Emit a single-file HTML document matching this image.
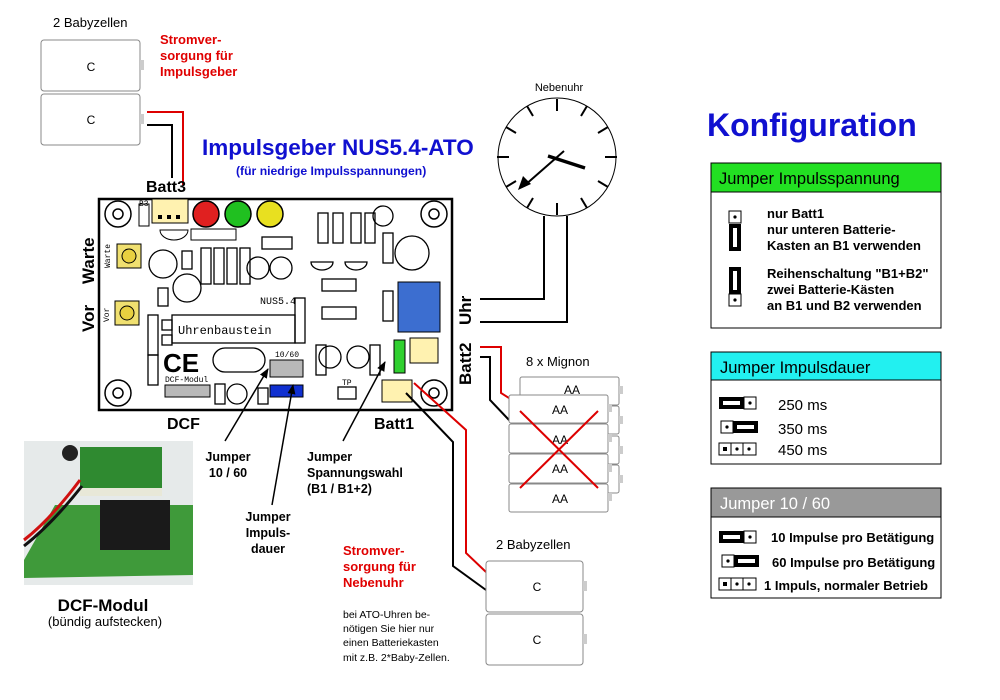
<!DOCTYPE html>
<html><head><meta charset="utf-8"><style>
html,body{margin:0;padding:0;background:#fff;}
svg{display:block;font-family:"Liberation Sans",Arial,sans-serif;}
</style></head><body>
<svg width="1000" height="700" viewBox="0 0 1000 700" xmlns="http://www.w3.org/2000/svg">
<rect width="1000" height="700" fill="#fff"/>
<defs>
<marker id="ah" markerWidth="10" markerHeight="10" refX="9" refY="5" orient="auto" markerUnits="userSpaceOnUse"><path d="M0,1 L10,5 L0,9 z" fill="#000"/></marker>
</defs>

<!-- top batteries -->
<text x="53" y="27" font-size="13">2 Babyzellen</text>
<rect x="41" y="40" width="99" height="51" rx="3" fill="#fff" stroke="#888"/>
<rect x="41" y="94" width="99" height="51" rx="3" fill="#fff" stroke="#888"/>
<rect x="140" y="60" width="4" height="10" fill="#ccc"/>
<rect x="140" y="114" width="4" height="10" fill="#ccc"/>
<text x="91" y="71" font-size="12" text-anchor="middle">C</text>
<text x="91" y="124" font-size="12" text-anchor="middle">C</text>
<polyline points="147,112 183,112 183,185" fill="none" stroke="#d00" stroke-width="2"/>
<polyline points="147,125 172,125 172,178" fill="none" stroke="#000" stroke-width="2"/>
<g font-size="13" font-weight="bold" fill="#e00000">
<text x="160" y="44">Stromver-</text><text x="160" y="60">sorgung für</text><text x="160" y="76">Impulsgeber</text></g>

<text x="202" y="155" font-size="22.5" font-weight="bold" fill="#1010d0">Impulsgeber NUS5.4-ATO</text>
<text x="236" y="175" font-size="12.2" font-weight="bold" fill="#1010d0">(für niedrige Impulsspannungen)</text>
<text x="146" y="192" font-size="16" font-weight="bold">Batt3</text>

<!-- PCB -->
<rect x="99" y="199" width="353" height="211" fill="#fff" stroke="#000" stroke-width="2.5"/>
<g fill="none" stroke="#000" stroke-width="1.5">
<circle cx="118" cy="214" r="13"/><circle cx="434" cy="214" r="13"/><circle cx="118" cy="393" r="13"/><circle cx="434" cy="393" r="13"/>
<circle cx="118" cy="214" r="5"/><circle cx="434" cy="214" r="5"/><circle cx="118" cy="393" r="5"/><circle cx="434" cy="393" r="5"/>
</g>
<rect x="152" y="199" width="36" height="24" fill="#fff2b0" stroke="#000"/>
<rect x="158" y="215" width="4" height="4"/><rect x="167" y="215" width="4" height="4"/><rect x="176" y="215" width="4" height="4"/>
<rect x="139" y="204" width="10" height="22" fill="#fff" stroke="#000"/>
<circle cx="206" cy="214" r="13" fill="#e02020" stroke="#000" stroke-width="1.5"/>
<circle cx="238" cy="214" r="13" fill="#20c020" stroke="#000" stroke-width="1.5"/>
<circle cx="270" cy="214" r="13" fill="#e8e020" stroke="#000" stroke-width="1.5"/>
<rect x="191" y="229" width="45" height="11" fill="#fff" stroke="#000"/>
<path d="M160,230 a14,10 0 0 0 28,0 z" fill="#fff" stroke="#000"/>
<rect x="117" y="244" width="24" height="24" fill="#f0e070" stroke="#000"/><circle cx="129" cy="256" r="7" fill="#e8d040" stroke="#000"/>
<rect x="115" y="301" width="24" height="24" fill="#f0e070" stroke="#000"/><circle cx="127" cy="313" r="7" fill="#e8d040" stroke="#000"/>
<g font-size="8" font-family="Liberation Mono,monospace">
<text transform="translate(110,268) rotate(-90)">Warte</text>
<text transform="translate(109,322) rotate(-90)">Vor</text>
<text x="139" y="206">B3</text>
</g>
<g fill="none" stroke="#000" stroke-width="1.3">
<circle cx="163" cy="264" r="14"/><circle cx="187" cy="288" r="14"/>
<rect x="182" y="251" width="10" height="18"/><rect x="158" y="288" width="10" height="18"/>
<rect x="201" y="248" width="10" height="36"/><rect x="214" y="248" width="10" height="36"/><rect x="227" y="248" width="10" height="36"/><rect x="240" y="248" width="10" height="36"/>
<circle cx="258" cy="268" r="11"/><circle cx="281" cy="268" r="11"/>
<rect x="262" y="237" width="30" height="12"/>
<rect x="318" y="213" width="10" height="30"/><rect x="351" y="213" width="10" height="30"/>
<rect x="333" y="213" width="10" height="30"/><rect x="365" y="213" width="10" height="30"/>
<circle cx="383" cy="216" r="10"/><circle cx="412" cy="253" r="17"/>
<path d="M311,262 a11,8 0 0 0 22,0 z"/><path d="M345,262 a11,8 0 0 0 22,0 z"/>
<rect x="322" y="279" width="34" height="12"/><rect x="322" y="307" width="34" height="12"/>
<rect x="383" y="233" width="10" height="30"/><rect x="383" y="291" width="10" height="30"/>
<rect x="295" y="298" width="10" height="45"/>
<rect x="172" y="315" width="123" height="28"/>
<rect x="148" y="315" width="10" height="40"/><rect x="148" y="355" width="10" height="30"/>
<rect x="213" y="348" width="52" height="24" rx="12"/>
<circle cx="330" cy="357" r="11"/><circle cx="358" cy="357" r="11"/>
<rect x="316" y="345" width="10" height="30"/><rect x="370" y="345" width="10" height="30"/>
<circle cx="237" cy="394" r="10"/><rect x="215" y="384" width="10" height="20"/><rect x="258" y="388" width="10" height="16"/>
<rect x="338" y="387" width="18" height="12"/>
<rect x="162" y="320" width="10" height="10"/><rect x="162" y="335" width="10" height="10"/>
</g>
<text x="178" y="334" font-size="12" font-family="Liberation Mono,monospace">Uhrenbaustein</text>
<text x="260" y="304" font-size="10" font-family="Liberation Mono,monospace">NUS5.4</text>
<text x="163" y="372" font-size="26" font-weight="bold">CE</text>
<rect x="398" y="282" width="42" height="50" fill="#3c6ed0" stroke="#000"/>
<rect x="394" y="340" width="11" height="33" fill="#30d030" stroke="#000"/>
<rect x="410" y="338" width="28" height="25" fill="#fff2b0" stroke="#000"/>
<rect x="382" y="380" width="30" height="22" fill="#fff2b0" stroke="#000"/>
<rect x="270" y="360" width="33" height="17" fill="#b8b8b8" stroke="#000"/>
<rect x="270" y="385" width="33" height="12" fill="#1030d0" stroke="#000"/>
<rect x="165" y="385" width="45" height="12" fill="#b8b8b8" stroke="#000"/>
<text x="165" y="382" font-size="8" font-family="Liberation Mono,monospace">DCF-Modul</text>
<text x="275" y="357" font-size="8" font-family="Liberation Mono,monospace">10/60</text>
<text x="342" y="385" font-size="8" font-family="Liberation Mono,monospace">TP</text>

<g font-size="17" font-weight="bold">
<text transform="translate(94,284) rotate(-90)">Warte</text>
<text transform="translate(94,332) rotate(-90)">Vor</text>
<text transform="translate(471,325) rotate(-90)">Uhr</text>
<text transform="translate(471,385) rotate(-90)">Batt2</text>
<text x="167" y="429" font-size="16">DCF</text>
<text x="374" y="429" font-size="16">Batt1</text>
</g>

<line x1="225" y1="441" x2="268" y2="369" stroke="#000" stroke-width="1.5" marker-end="url(#ah)"/>
<line x1="272" y1="505" x2="293" y2="385" stroke="#000" stroke-width="1.5" marker-end="url(#ah)"/>
<line x1="343" y1="441" x2="385" y2="362" stroke="#000" stroke-width="1.5" marker-end="url(#ah)"/>
<g font-size="12.5" font-weight="bold">
<text x="228" y="461" text-anchor="middle">Jumper</text><text x="228" y="477" text-anchor="middle">10 / 60</text>
<text x="268" y="521" text-anchor="middle">Jumper</text><text x="268" y="537" text-anchor="middle">Impuls-</text><text x="268" y="553" text-anchor="middle">dauer</text>
<text x="307" y="461">Jumper</text><text x="307" y="477">Spannungswahl</text><text x="307" y="493">(B1 / B1+2)</text>
</g>

<!-- photo -->
<rect x="24" y="441" width="169" height="144" fill="#e6eaea"/>
<path d="M24,560 L55,505 L193,505 L193,575 L24,578 z" fill="#3f9a3a"/>
<rect x="100" y="500" width="70" height="50" fill="#1a1a1a"/>
<rect x="80" y="447" width="82" height="45" fill="#2f8a30"/>
<rect x="80" y="488" width="82" height="8" fill="#e8e8d8"/>
<circle cx="70" cy="453" r="8" fill="#222"/>
<path d="M24,540 Q50,520 80,480" stroke="#d01010" stroke-width="3" fill="none"/>
<path d="M24,546 Q52,524 82,486" stroke="#111" stroke-width="3" fill="none"/>
<text x="103" y="611" font-size="17" font-weight="bold" text-anchor="middle">DCF-Modul</text>
<text x="105" y="626" font-size="13" text-anchor="middle">(bündig aufstecken)</text>

<g font-size="13" font-weight="bold" fill="#e00000">
<text x="343" y="555">Stromver-</text><text x="343" y="571">sorgung für</text><text x="343" y="587">Nebenuhr</text></g>
<g font-size="10.5">
<text x="343" y="618">bei ATO-Uhren be-</text><text x="343" y="632">nötigen Sie hier nur</text><text x="343" y="646">einen Batteriekasten</text><text x="343" y="661">mit z.B. 2*Baby-Zellen.</text></g>

<!-- clock -->
<text x="559" y="91" font-size="11" text-anchor="middle">Nebenuhr</text>
<circle cx="557" cy="157" r="59" fill="#fff" stroke="#000"/>
<g stroke="#000" stroke-width="2">
<line x1="557" y1="99" x2="557" y2="111"/><line x1="557" y1="203" x2="557" y2="215"/>
<line x1="497" y1="157" x2="509" y2="157"/><line x1="605" y1="157" x2="617" y2="157"/>
<line x1="527" y1="106" x2="533" y2="116"/><line x1="587" y1="106" x2="581" y2="116"/>
<line x1="527" y1="208" x2="533" y2="198"/><line x1="587" y1="208" x2="581" y2="198"/>
<line x1="506" y1="127" x2="516" y2="133"/><line x1="608" y1="127" x2="598" y2="133"/>
<line x1="506" y1="187" x2="516" y2="181"/><line x1="608" y1="187" x2="598" y2="181"/>
</g>
<line x1="548" y1="156" x2="585" y2="168" stroke="#000" stroke-width="3.5"/>
<line x1="564" y1="151" x2="524" y2="186" stroke="#000" stroke-width="2"/>
<path d="M518,190 L523,176 L531,184 z" fill="#000"/>
<polyline points="544,216 544,299 480,299" fill="none" stroke="#000" stroke-width="2"/>
<polyline points="567,216 567,322 480,322" fill="none" stroke="#000" stroke-width="2"/>

<polyline points="480,347 501,347 501,393 509,398" fill="none" stroke="#d00" stroke-width="2"/>
<polyline points="480,357 490,357 490,400 509,420" fill="none" stroke="#000" stroke-width="2"/>

<text x="526" y="366" font-size="13">8 x Mignon</text>
<g fill="#fff" stroke="#888">
<rect x="520" y="377" width="99" height="28" rx="2"/><rect x="520" y="406" width="99" height="28" rx="2"/><rect x="520" y="436" width="99" height="28" rx="2"/><rect x="520" y="465" width="99" height="28" rx="2"/>
</g>
<g fill="#ccc"><rect x="619" y="386" width="4" height="8"/><rect x="619" y="416" width="4" height="8"/><rect x="619" y="446" width="4" height="8"/><rect x="619" y="475" width="4" height="8"/></g>
<text x="572" y="394" font-size="12" text-anchor="middle">AA</text>
<g fill="#fff" stroke="#888">
<rect x="509" y="395" width="99" height="28" rx="2"/><rect x="509" y="424" width="99" height="29" rx="2"/><rect x="509" y="454" width="99" height="29" rx="2"/><rect x="509" y="484" width="99" height="28" rx="2"/>
</g>
<g fill="#ccc"><rect x="608" y="404" width="4" height="8"/><rect x="608" y="434" width="4" height="8"/><rect x="608" y="464" width="4" height="8"/><rect x="608" y="493" width="4" height="8"/></g>
<g font-size="12" text-anchor="middle">
<text x="560" y="414">AA</text><text x="560" y="444">AA</text><text x="560" y="473">AA</text><text x="560" y="503">AA</text></g>
<line x1="520" y1="411" x2="598" y2="488" stroke="#d00" stroke-width="2"/>
<line x1="598" y1="411" x2="520" y2="488" stroke="#d00" stroke-width="2"/>

<polyline points="414,383 466,430 466,553 486,572" fill="none" stroke="#d00" stroke-width="2"/>
<polyline points="406,393 453,442 453,566 486,590" fill="none" stroke="#000" stroke-width="2"/>

<text x="496" y="549" font-size="13">2 Babyzellen</text>
<rect x="486" y="561" width="97" height="51" rx="3" fill="#fff" stroke="#888"/>
<rect x="486" y="614" width="97" height="51" rx="3" fill="#fff" stroke="#888"/>
<rect x="583" y="581" width="4" height="10" fill="#ccc"/>
<rect x="583" y="634" width="4" height="10" fill="#ccc"/>
<text x="537" y="591" font-size="12" text-anchor="middle">C</text>
<text x="537" y="644" font-size="12" text-anchor="middle">C</text>

<text x="707" y="136" font-size="32" font-weight="bold" fill="#1010d0">Konfiguration</text>

<!-- Box 1 -->
<rect x="711" y="163" width="230" height="165" fill="#fff" stroke="#000"/>
<rect x="711" y="163" width="230" height="29" fill="#22e022" stroke="#000"/>
<text x="719" y="184" font-size="16.5">Jumper Impulsspannung</text>
<rect x="729" y="211" width="12" height="12" fill="#fff" stroke="#000"/><circle cx="735" cy="217" r="1.6"/>
<rect x="729" y="224" width="12" height="27" fill="#000"/><rect x="733" y="228" width="4" height="19" fill="#fff"/>
<rect x="729" y="267" width="12" height="27" fill="#000"/><rect x="733" y="271" width="4" height="19" fill="#fff"/>
<rect x="729" y="294" width="12" height="12" fill="#fff" stroke="#000"/><circle cx="735" cy="300" r="1.6"/>
<g font-size="13" font-weight="bold">
<text x="767" y="218">nur Batt1</text><text x="767" y="234">nur unteren Batterie-</text><text x="767" y="250">Kasten an B1 verwenden</text>
<text x="767" y="278">Reihenschaltung "B1+B2"</text><text x="767" y="294">zwei Batterie-Kästen</text><text x="767" y="310">an B1 und B2 verwenden</text>
</g>

<!-- Box 2 -->
<rect x="711" y="352" width="230" height="112" fill="#fff" stroke="#000"/>
<rect x="711" y="352" width="230" height="28" fill="#22f0f0" stroke="#000"/>
<text x="720" y="373" font-size="16.5">Jumper Impulsdauer</text>
<rect x="719" y="397" width="25" height="12" fill="#000"/><rect x="723" y="401" width="17" height="4" fill="#fff"/>
<rect x="744" y="397" width="12" height="12" fill="#fff" stroke="#000"/><circle cx="750" cy="403" r="1.6"/>
<rect x="721" y="421" width="12" height="12" fill="#fff" stroke="#000"/><circle cx="727" cy="427" r="1.6"/>
<rect x="733" y="421" width="25" height="12" fill="#000"/><rect x="737" y="425" width="17" height="4" fill="#fff"/>
<rect x="719" y="443" width="37" height="12" fill="#fff" stroke="#000"/><line x1="731" y1="443" x2="731" y2="455" stroke="#000"/><line x1="743" y1="443" x2="743" y2="455" stroke="#000"/>
<rect x="723" y="447" width="4" height="4"/><circle cx="737" cy="449" r="1.6"/><circle cx="749" cy="449" r="1.6"/>
<g font-size="15"><text x="778" y="410">250 ms</text><text x="778" y="434">350 ms</text><text x="778" y="455">450 ms</text></g>

<!-- Box 3 -->
<rect x="711" y="488" width="230" height="110" fill="#fff" stroke="#000"/>
<rect x="711" y="488" width="230" height="29" fill="#999" stroke="#000"/>
<text x="720" y="509" font-size="16.5" fill="#fff">Jumper 10 / 60</text>
<rect x="719" y="531" width="25" height="12" fill="#000"/><rect x="723" y="535" width="17" height="4" fill="#fff"/>
<rect x="744" y="531" width="12" height="12" fill="#fff" stroke="#000"/><circle cx="750" cy="537" r="1.6"/>
<rect x="722" y="555" width="12" height="12" fill="#fff" stroke="#000"/><circle cx="728" cy="561" r="1.6"/>
<rect x="734" y="555" width="25" height="12" fill="#000"/><rect x="738" y="559" width="17" height="4" fill="#fff"/>
<rect x="719" y="578" width="37" height="12" fill="#fff" stroke="#000"/><line x1="731" y1="578" x2="731" y2="590" stroke="#000"/><line x1="743" y1="578" x2="743" y2="590" stroke="#000"/>
<rect x="723" y="582" width="4" height="4"/><circle cx="737" cy="584" r="1.6"/><circle cx="749" cy="584" r="1.6"/>
<g font-size="13" font-weight="bold"><text x="771" y="542">10 Impulse pro Betätigung</text><text x="772" y="567">60 Impulse pro Betätigung</text><text x="764" y="590">1 Impuls, normaler Betrieb</text></g>
</svg>
</body></html>
